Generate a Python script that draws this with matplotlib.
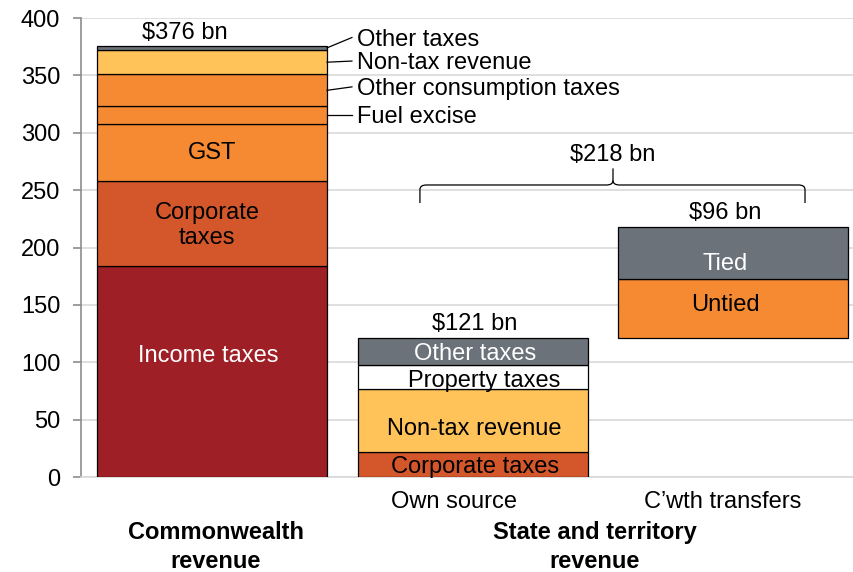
import matplotlib.pyplot as plt
from matplotlib.path import Path
from matplotlib.patches import PathPatch
from matplotlib.transforms import blended_transform_factory

plt.rcParams['font.family'] = ['Liberation Sans', 'DejaVu Sans']
plt.rcParams['font.size'] = 17

# Commonwealth revenue ($bn), bottom to top
cw_names = ['Income taxes', 'Corporate taxes', 'GST', 'Fuel excise',
            'Other consumption taxes', 'Non-tax revenue', 'Other taxes']
cw_values = [184, 74, 50, 15, 28, 21, 4]
cw_total = '$376 bn'

# State own source revenue ($bn)
own_names = ['Corporate taxes', 'Non-tax revenue', 'Property taxes', 'Other taxes']
own_values = [22, 55, 21, 23]
own_total = '$121 bn'

# Commonwealth transfers to states ($bn)
tr_names = ['Untied', 'Tied']
tr_values = [52, 45]
tr_total = '$96 bn'
state_total = '$218 bn'

xlabels = ['Own source', 'C\u2019wth transfers']
group_labels = ['Commonwealth\nrevenue', 'State and territory\nrevenue']

dark_red = '#9E1F25'
rust = '#D4572B'
orange = '#F58A33'
yellow = '#FFC35A'
grey = '#6B7279'

cw_colors = [dark_red, rust, orange, orange, orange, yellow, grey]
own_colors = [rust, yellow, 'white', grey]
tr_colors = [orange, grey]

fig = plt.figure(figsize=(8.54, 5.72), dpi=100)
ax = fig.add_axes([0.0948, 0.166, 0.9052, 0.8025])

width = 0.883


def stack(x, values, colors, base=0):
    b = base
    for v, c in zip(values, colors):
        ax.bar(x, v, width, bottom=b, color=c, edgecolor='black', linewidth=0.9, zorder=3)
        b += v
    return b


cw_top = stack(0, cw_values, cw_colors)
own_top = stack(1, own_values, own_colors)
tr_top = stack(2, tr_values, tr_colors, base=own_top)

# labels inside the bars
ax.text(-0.015, 105.5, 'Income taxes', color='white', ha='center', va='center', zorder=4)
ax.text(-0.02, 219, 'Corporate\ntaxes', ha='center', va='center', zorder=4, linespacing=1.15)
ax.text(0, 282, 'GST', ha='center', va='center', zorder=4)

own_label_y = [8.5, 41.5, 84, 107]
own_label_dx = [0.01, 0.005, 0.045, 0.01]
own_label_col = ['black', 'black', 'black', 'white']
for n, y, dx, c in zip(own_names, own_label_y, own_label_dx, own_label_col):
    ax.text(1 + dx, y, n, color=c, ha='center', va='center', zorder=4)

ax.text(1.97, 150, tr_names[0], ha='center', va='center', zorder=4)
ax.text(1.97, 185.5, tr_names[1], color='white', ha='center', va='center', zorder=4)

# leader-line labels for the thin Commonwealth segments
edge = width / 2
leaders = [('Fuel excise', 315.5, 315.5, 313.5),
           ('Other consumption taxes', 337, 340, 338),
           ('Non-tax revenue', 361.5, 362.5, 360.5),
           ('Other taxes', 374, 383, 381)]
for name, y0, y1, yt in leaders:
    ax.plot([edge, 0.537], [y0, y1], color='black', lw=0.9, zorder=4, clip_on=False)
    ax.text(0.557, yt, name, ha='left', va='center', zorder=4)

# totals
ax.text(-0.105, cw_top + 1.5, cw_total, ha='center', va='bottom')
ax.text(1.01, own_top + 2.5, own_total, ha='center', va='bottom')
ax.text(1.97, tr_top + 2.5, tr_total, ha='center', va='bottom')

# brace over state revenue
x0, x1, xm = 0.798, 2.276, 1.539
yb, yl, yt = 254.5, 238.8, 269
r = 0.025
verts = [(x0, yl), (x0, yb - 4), (x0, yb), (x0 + r, yb),
         (xm - r, yb), (xm, yb), (xm, yb + 4), (xm, yt)]
codes = [Path.MOVETO, Path.LINETO, Path.CURVE3, Path.CURVE3,
         Path.LINETO, Path.CURVE3, Path.CURVE3, Path.LINETO]
ax.add_patch(PathPatch(Path(verts, codes), fill=False, lw=0.9, zorder=4))
verts = [(x1, yl), (x1, yb - 4), (x1, yb), (x1 - r, yb),
         (xm + r, yb), (xm, yb), (xm, yb + 4)]
codes = [Path.MOVETO, Path.LINETO, Path.CURVE3, Path.CURVE3,
         Path.LINETO, Path.CURVE3, Path.CURVE3]
ax.add_patch(PathPatch(Path(verts, codes), fill=False, lw=0.9, zorder=4))
ax.text(xm, 271, state_total, ha='center', va='bottom')

# axes styling
ax.set_xlim(-0.503, 2.464)
ax.set_ylim(0, 400)
ax.set_yticks(range(0, 401, 50))
ax.yaxis.grid(True, color='#D9D9D9', lw=1.2, zorder=0)
ax.set_axisbelow(True)
for s in ['top', 'right']:
    ax.spines[s].set_visible(False)
ax.spines['bottom'].set_color('#D9D9D9')
ax.spines['bottom'].set_linewidth(1.2)
ax.spines['left'].set_color('#8C8C8C')
ax.spines['left'].set_linewidth(1.2)
ax.tick_params(axis='y', length=6, width=1.2, color='#8C8C8C', pad=9)
ax.set_xticks([])

trans = blended_transform_factory(ax.transData, ax.transAxes)
ax.text(0.93, -0.055, xlabels[0], transform=trans, ha='center', va='center')
ax.text(1.96, -0.055, xlabels[1], transform=trans, ha='center', va='center')

fig.text(216 / 854, 1 - 547 / 572, group_labels[0], ha='center', va='center',
         fontweight='bold', linespacing=1.3)
fig.text(595 / 854, 1 - 547 / 572, group_labels[1], ha='center', va='center',
         fontweight='bold', linespacing=1.3)

fig.savefig('out.png', dpi=100)
